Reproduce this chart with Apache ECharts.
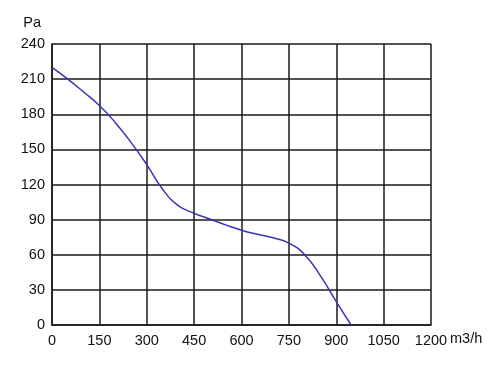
<!DOCTYPE html>
<html><head><meta charset="utf-8">
<script src="https://cdn.jsdelivr.net/npm/echarts@6/dist/echarts.min.js"></script>
<style>html,body{margin:0;padding:0;background:#fff}#c{width:500px;height:368px}</style>
</head><body><div id="c"></div>
<script>
const flowValues = [0, 50, 100, 150, 200, 250, 300, 350, 400, 450, 500, 550, 600, 650, 700, 750, 800, 850, 900, 947];
const pressureValues = [220, 210, 199, 187.5, 173, 156, 137, 116, 102, 95.5, 90.5, 85.5, 81, 77.5, 74.5, 70, 60, 42, 20, 0];
const xTicks = [0, 150, 300, 450, 600, 750, 900, 1050, 1200];
const yTicks = [0, 30, 60, 90, 120, 150, 180, 210, 240];

const chart = echarts.init(document.getElementById('c'));
const gridLine = {show: true, lineStyle: {color: '#1a1a1a', width: 1.5}};
const font = {fontFamily: 'Liberation Sans', fontSize: 14.5, color: '#111'};
chart.setOption({
  animation: false,
  grid: {left: 52, top: 44, right: 69, bottom: 43},
  xAxis: {
    type: 'value', min: xTicks[0], max: xTicks[xTicks.length - 1], interval: xTicks[1] - xTicks[0],
    name: 'm3/h', nameLocation: 'end', nameGap: 19, nameMoveOverlap: false,
    nameTextStyle: Object.assign({}, font, {verticalAlign: 'top', padding: [6, 0, 0, 0]}),
    axisLine: {show: true, lineStyle: {color: '#1a1a1a', width: 1.5}},
    axisTick: {show: false},
    axisLabel: Object.assign({}, font, {margin: 8, formatter: v => String(v)}),
    splitLine: gridLine
  },
  yAxis: {
    type: 'value', min: yTicks[0], max: yTicks[yTicks.length - 1], interval: yTicks[1] - yTicks[0],
    name: 'Pa', nameLocation: 'end', nameGap: 14,
    nameTextStyle: Object.assign({}, font, {align: 'right', padding: [0, 11, 0, 0]}),
    axisLine: {show: true, lineStyle: {color: '#1a1a1a', width: 1.5}},
    axisTick: {show: false},
    axisLabel: Object.assign({}, font, {margin: 7, formatter: v => String(v)}),
    splitLine: gridLine
  },
  series: [{
    type: 'line', smooth: 0.5, symbol: 'none',
    data: flowValues.map((x, i) => [x, pressureValues[i]]),
    lineStyle: {color: '#3535b5', width: 1.5}
  }]
});
</script></body></html>
